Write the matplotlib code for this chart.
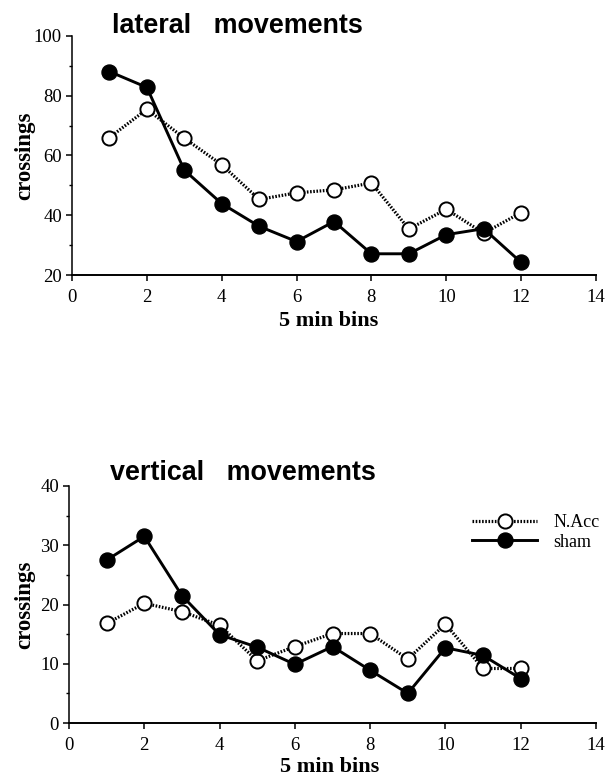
import numpy as np
import matplotlib
matplotlib.use("Agg")
import matplotlib.pyplot as plt
from matplotlib.ticker import MultipleLocator

# ─────────────────────────────────────────────
# Data
# ─────────────────────────────────────────────
bins = [1, 2, 3, 4, 5, 6, 7, 8, 9, 10, 11, 12]

lateral_nacc = [66, 75.5, 65.8, 56.9, 45.3, 47.5, 48.5, 50.8, 35.4, 42, 34, 40.9]
lateral_sham = [88.1, 82.8, 55.1, 43.9, 36.3, 31.2, 37.9, 27.1, 27.1, 33.5, 35.5, 24.2]

vertical_nacc = [16.8, 20.2, 18.8, 16.5, 10.5, 12.9, 15.1, 15.1, 10.8, 16.7, 9.2, 9.2]
vertical_sham = [27.5, 31.5, 21.5, 14.9, 12.8, 9.9, 12.9, 8.9, 5.0, 12.7, 11.4, 7.5]

x_ticks = [0, 2, 4, 6, 8, 10, 12, 14]
legend_labels = ["N.Acc", "sham"]

SERIF = "Liberation Serif"
SANS = "Liberation Sans"

fig = plt.figure(figsize=(6.08, 7.78), dpi=100)
fig.patch.set_facecolor("white")

ax_top = fig.add_axes([72 / 608, 1 - 275 / 778, 524 / 608, 239 / 778])
ax_bot = fig.add_axes([69 / 608, 1 - 723 / 778, 527 / 608, 237 / 778])


def draw_panel(ax, nacc, sham, ylim, ymajor, yminor):
    ax.plot(bins, nacc, color="black", linewidth=2.3, linestyle=(0, (0.5, 0.5)),
            marker="o", markersize=10.2, markerfacecolor="white",
            markeredgecolor="black", markeredgewidth=1.4, label=legend_labels[0],
            zorder=3)
    ax.plot(bins, sham, color="black", linewidth=2.1, linestyle="-",
            marker="o", markersize=10.8, markerfacecolor="black",
            markeredgecolor="black", label=legend_labels[1], zorder=4)

    ax.set_xlim(0, 14)
    ax.set_ylim(*ylim)
    ax.set_xticks(x_ticks)
    ax.yaxis.set_major_locator(MultipleLocator(ymajor))
    ax.yaxis.set_minor_locator(MultipleLocator(yminor))

    for sp in ["top", "right"]:
        ax.spines[sp].set_visible(False)
    ax.spines["left"].set_linewidth(1.1)
    ax.spines["bottom"].set_linewidth(1.4)

    ax.tick_params(axis="both", which="major", direction="out", length=4.2,
                   width=1.1, labelsize=13.5, colors="black")
    ax.tick_params(axis="x", which="major", pad=6)
    ax.tick_params(axis="y", which="major", pad=3)
    ax.tick_params(axis="y", which="minor", direction="out", length=2.2, width=1.0)
    for lab in ax.get_xticklabels() + ax.get_yticklabels():
        lab.set_fontfamily(SERIF)

    ax.set_ylabel("crossings", fontsize=16.5, fontweight="bold", fontfamily=SERIF)
    ax.set_xlabel("5 min bins", fontsize=16, fontweight="bold", fontfamily=SERIF)
    ax.yaxis.label.set_va("center")
    ax.xaxis.label.set_va("center")


# ── Panel A: lateral movements
draw_panel(ax_top, lateral_nacc, lateral_sham, (20, 100), 20, 10)
ax_top.yaxis.set_label_coords((25 - 72) / 524, 0.5)
ax_top.xaxis.set_label_coords(0.49, (275 - 321) / 239)
fig.text(112 / 608, 1 - 33 / 778, "lateral   movements", fontsize=19.4,
         fontweight="bold", fontfamily=SANS, ha="left", va="baseline")

# ── Panel B: vertical movements
draw_panel(ax_bot, vertical_nacc, vertical_sham, (0, 40), 10, 5)
ax_bot.yaxis.set_label_coords((25 - 69) / 527, 0.5)
ax_bot.xaxis.set_label_coords(0.495, (723 - 767) / 237)
fig.text(110 / 608, 1 - 480 / 778, "vertical   movements", fontsize=19.4,
         fontweight="bold", fontfamily=SANS, ha="left", va="baseline")

# legend sits at the right edge; kept just inside the figure
ax_bot.legend(loc="upper left", bbox_to_anchor=(472 / 608, 1 - 514 / 778),
              bbox_transform=fig.transFigure, frameon=False,
              prop={"family": SERIF, "size": 13}, handlelength=3.6,
              handletextpad=0.9, labelspacing=0.15, borderpad=0,
              borderaxespad=0)

fig.savefig("out.png", dpi=100, facecolor="white")
plt.close(fig)
